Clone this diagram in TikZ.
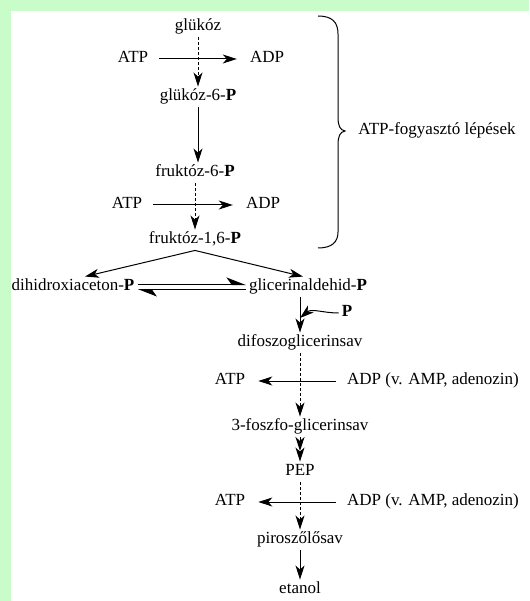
\documentclass[tikz,border=0pt]{standalone}
\usepackage{fontspec}
\setmainfont{Liberation Serif}
\usetikzlibrary{arrows.meta}
\definecolor{bggreen}{RGB}{200,252,200}
\begin{document}
\begin{tikzpicture}[x=1pt,y=-1pt,
  every node/.style={font=\fontsize{17}{20}\selectfont, inner sep=3pt, text height=11pt, text depth=3.5pt},
  arr/.style={-{Stealth[length=14pt,width=9pt,inset=4pt]}, line width=1pt},
  darr/.style={arr, dash pattern=on 3pt off 2pt},
  eq/.style={line width=1pt, -{Stealth[left,length=18pt,width=14pt,inset=5pt]}}]
\useasboundingbox (0,0) rectangle (529,601);
\fill[bggreen] (0,0) rectangle (529,601);
\fill[white] (11,11) rectangle (529,601);
% nodes
\node (glu) at (198,27) {glükóz};
\node (atpa) at (133,59) {ATP};
\node (adpa) at (267,59) {ADP};
\node (g6p) at (198,97) {glükóz-6-\textbf{P}};
\node (f6p) at (195,173) {fruktóz-6-\textbf{P}};
\node (atpb) at (127,205) {ATP};
\node (adpb) at (263,205) {ADP};
\node (f16p) at (195,240) {fruktóz-1,6-\textbf{P}};
\node (dhap) at (73,287) {dihidroxiaceton-\textbf{P}};
\node (gap) at (308,287) {glicerinaldehid-\textbf{P}};
\node (pb) at (347,313) {\textbf{P}};
\node (dpg) at (300,343) {difoszoglicerinsav};
\node (atpc) at (230,381) {ATP};
\node (adpc) at (433,381) {ADP (v. AMP, adenozin)};
\node (pga) at (300,427) {3-foszfo-glicerinsav};
\node (pep) at (300,472) {PEP};
\node (atpd) at (230,502) {ATP};
\node (adpd) at (433,502) {ADP (v. AMP, adenozin)};
\node (pyr) at (300,540) {piroszőlősav};
\node (eth) at (300,590) {etanol};
\node (lab) at (437,131) {ATP-fogyasztó lépések};
\coordinate (pj) at (300,318);
\coordinate (pgam) at (300,451);
% brace
\draw[line width=1pt] (318,16) .. controls (332,16) and (338,22) .. (338,34) -- (338,117)
  .. controls (338,126) and (340,130) .. (345,131)
  .. controls (340,132) and (338,136) .. (338,145) -- (338,232)
  .. controls (338,242) and (332,248) .. (318,248);
% connectors
\draw[darr] (glu.south -| g6p.north) -- (g6p.north);
\draw[arr, shorten <=8pt, shorten >=10pt] (atpa) -- (adpa);
\draw[arr] (g6p.south) -- (g6p.south |- f6p.north);
\draw[darr] (f6p.south -| f16p.north) -- (f16p.north);
\draw[arr, shorten <=8pt, shorten >=10pt] (atpb) -- (adpb);
\draw[arr] (f16p.south) -- ([xshift=12pt]dhap.north);
\draw[arr] (f16p.south) -- ([xshift=-5pt]gap.north);
\draw[eq] ([yshift=2.5pt]dhap.east) -- ([yshift=2.5pt]gap.west);
\draw[eq] ([yshift=-2.5pt]gap.west) -- ([yshift=-2.5pt]dhap.east);
\draw[arr] (dpg.north |- gap.south) -- (dpg.north);
\draw[arr] (pb.west) to[out=180,in=40] (pj);
\draw[darr] (dpg) -- (pga);
\draw[arr, shorten <=8pt, shorten >=10pt] (adpc) -- (atpc);
\draw[arr] (pga) -- (pgam);
\draw[arr] (pgam) -- (pep);
\draw[darr] (pep) -- (pyr);
\draw[arr, shorten <=8pt, shorten >=10pt] (adpd) -- (atpd);
\draw[arr] (pyr) -- (eth);
\end{tikzpicture}
\end{document}
